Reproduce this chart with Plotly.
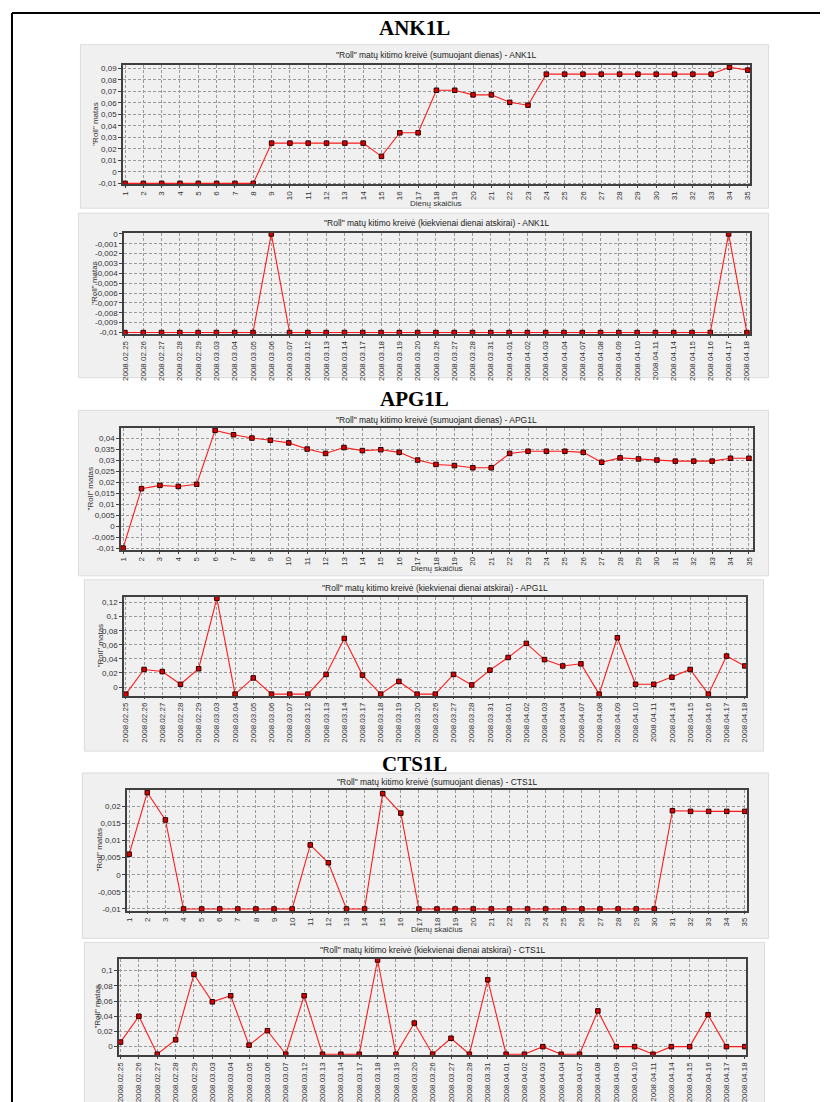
import plotly.graph_objects as go

# page body has an 8px margin: figure is sized to fit the window exactly
OFF = 8
W, H = 828 - OFF, 1102 - OFF

# ---------------- data ----------------
days = [1, 2, 3, 4, 5, 6, 7, 8, 9, 10, 11, 12, 13, 14, 15, 16, 17, 18, 19, 20,
        21, 22, 23, 24, 25, 26, 27, 28, 29, 30, 31, 32, 33, 34, 35]
day_labels = [str(d) for d in days]

dates = ["2008.02.25", "2008.02.26", "2008.02.27", "2008.02.28", "2008.02.29",
         "2008.03.03", "2008.03.04", "2008.03.05", "2008.03.06", "2008.03.07",
         "2008.03.12", "2008.03.13", "2008.03.14", "2008.03.17", "2008.03.18",
         "2008.03.19", "2008.03.20", "2008.03.26", "2008.03.27", "2008.03.28",
         "2008.03.31", "2008.04.01", "2008.04.02", "2008.04.03", "2008.04.04",
         "2008.04.07", "2008.04.08", "2008.04.09", "2008.04.10", "2008.04.11",
         "2008.04.14", "2008.04.15", "2008.04.16", "2008.04.17", "2008.04.18"]

ank1l_cum = [-0.01, -0.01, -0.01, -0.01, -0.01, -0.01, -0.01, -0.01, 0.025, 0.025,
             0.025, 0.025, 0.025, 0.025, 0.0135, 0.034, 0.034, 0.071, 0.071, 0.067,
             0.067, 0.0605, 0.058, 0.085, 0.085, 0.085, 0.085, 0.085, 0.085, 0.085,
             0.085, 0.085, 0.085, 0.091, 0.0885]
ank1l_day = [-0.01, -0.01, -0.01, -0.01, -0.01, -0.01, -0.01, -0.01, 0.0, -0.01,
             -0.01, -0.01, -0.01, -0.01, -0.01, -0.01, -0.01, -0.01, -0.01, -0.01,
             -0.01, -0.01, -0.01, -0.01, -0.01, -0.01, -0.01, -0.01, -0.01, -0.01,
             -0.01, -0.01, -0.01, 0.0, -0.01]
apg1l_cum = [-0.01, 0.017, 0.0185, 0.018, 0.019, 0.0435, 0.0415, 0.040, 0.039, 0.0378,
             0.035, 0.033, 0.0357, 0.0343, 0.0347, 0.0335, 0.030, 0.028, 0.0275, 0.0265,
             0.0265, 0.033, 0.034, 0.034, 0.034, 0.0335, 0.029, 0.031, 0.0305, 0.030,
             0.0295, 0.0295, 0.0295, 0.0308, 0.0308]
apg1l_day = [-0.01, 0.025, 0.022, 0.004, 0.026, 0.126, -0.01, 0.013, -0.01, -0.01,
             -0.01, 0.018, 0.069, 0.017, -0.01, 0.008, -0.01, -0.01, 0.018, 0.003,
             0.024, 0.042, 0.062, 0.039, 0.030, 0.033, -0.01, 0.070, 0.004, 0.004,
             0.014, 0.025, -0.01, 0.044, 0.030]
cts1l_cum = [0.006, 0.024, 0.016, -0.01, -0.01, -0.01, -0.01, -0.01, -0.01, -0.01,
             0.0087, 0.0035, -0.01, -0.01, 0.0237, 0.018, -0.01, -0.01, -0.01, -0.01,
             -0.01, -0.01, -0.01, -0.01, -0.01, -0.01, -0.01, -0.01, -0.01, -0.01,
             0.0187, 0.0185, 0.0185, 0.0185, 0.0185]
cts1l_day = [0.006, 0.040, -0.01, 0.009, 0.095, 0.059, 0.067, 0.002, 0.021, -0.01,
             0.067, -0.01, -0.01, -0.01, 0.114, -0.01, 0.031, -0.01, 0.011, -0.01,
             0.088, -0.01, -0.01, 0.0, -0.01, -0.01, 0.047, 0.0, 0.0, -0.01,
             0.0, 0.0, 0.042, 0.0, 0.0]

ank1l_cum_ticks = [-0.01, 0.0, 0.01, 0.02, 0.03, 0.04, 0.05, 0.06, 0.07, 0.08, 0.09]
ank1l_cum_ticklabels = ["-0,01", "0", "0,01", "0,02", "0,03", "0,04", "0,05",
                        "0,06", "0,07", "0,08", "0,09"]
ank1l_day_ticks = [0.0, -0.001, -0.002, -0.003, -0.004, -0.005, -0.006, -0.007,
                   -0.008, -0.009, -0.01]
ank1l_day_ticklabels = ["0", "-0,001", "-0,002", "-0,003", "-0,004", "-0,005",
                        "-0,006", "-0,007", "-0,008", "-0,009", "-0,01"]
apg1l_cum_ticks = [-0.01, -0.005, 0.0, 0.005, 0.01, 0.015, 0.02, 0.025, 0.03, 0.035, 0.04]
apg1l_cum_ticklabels = ["-0,01", "-0,005", "0", "0,005", "0,01", "0,015", "0,02",
                        "0,025", "0,03", "0,035", "0,04"]
apg1l_day_ticks = [0.0, 0.02, 0.04, 0.06, 0.08, 0.1, 0.12]
apg1l_day_ticklabels = ["0", "0,02", "0,04", "0,06", "0,08", "0,1", "0,12"]
cts1l_cum_ticks = [-0.01, -0.005, 0.0, 0.005, 0.01, 0.015, 0.02]
cts1l_cum_ticklabels = ["-0,01", "-0,005", "0", "0,005", "0,01", "0,015", "0,02"]
cts1l_day_ticks = [0.0, 0.02, 0.04, 0.06, 0.08, 0.1]
cts1l_day_ticklabels = ["0", "0,02", "0,04", "0,06", "0,08", "0,1"]

section_titles = ["ANK1L", "APG1L", "CTS1L"]
title_cum = '"Roll" matų kitimo kreivė (sumuojant dienas) - {}'
title_day = '"Roll" matų kitimo kreivė (kiekvienai dienai atskirai) - {}'
y_title = '"Roll" matas'
x_title = "Dienų skaičius"

# ---------------- layout geometry (window pixels) ----------------
panels = [
    dict(kind="cum", name="ANK1L", y=ank1l_cum, ticks=ank1l_cum_ticks, tl=ank1l_cum_ticklabels,
         bg=(78, 42, 772, 207), plot=(121, 62, 753, 183), yr=(-0.0109, 0.0934), xr=(0.89, 35.1),
         ytx=93, title_y=52, xt_y=202),
    dict(kind="day", name="ANK1L", y=ank1l_day, ticks=ank1l_day_ticks, tl=ank1l_day_ticklabels,
         bg=(76, 212, 772, 378), plot=(122, 232, 753, 334), yr=(-0.01015, 0.0001), xr=(-0.05, 34.15),
         ytx=92, title_y=222),
    dict(kind="cum", name="APG1L", y=apg1l_cum, ticks=apg1l_cum_ticks, tl=apg1l_cum_ticklabels,
         bg=(76, 411, 772, 578), plot=(119, 429, 756, 552), yr=(-0.0109, 0.0445), xr=(0.89, 35.2),
         ytx=88, title_y=421, xt_y=571),
    dict(kind="day", name="APG1L", y=apg1l_day, ticks=apg1l_day_ticks, tl=apg1l_day_ticklabels,
         bg=(82, 582, 767, 755), plot=(122, 599, 749, 699), yr=(-0.0122, 0.1284), xr=(-0.1, 34.05),
         ytx=98, title_y=590),
    dict(kind="cum", name="CTS1L", y=cts1l_cum, ticks=cts1l_cum_ticks, tl=cts1l_cum_ticklabels,
         bg=(80, 777, 772, 944), plot=(125, 794, 750, 916), yr=(-0.0105, 0.0248), xr=(0.88, 35.1),
         ytx=97, title_y=786, xt_y=935),
    dict(kind="day", name="CTS1L", y=cts1l_day, ticks=cts1l_day_ticks, tl=cts1l_day_ticklabels,
         bg=(82, 948, 768, 1110), plot=(117, 965, 749, 1062), yr=(-0.0115, 0.115), xr=(-0.08, 34.05),
         ytx=95, title_y=956),
]
section_title_y = [25, 400, 768]


def px(x):
    return (x - OFF) / W


def py(y):
    return 1 - (y - OFF) / H


FONT = "Liberation Sans"
fig = go.Figure()
shapes = []
annotations = []

for i, p in enumerate(panels):
    n = "" if i == 0 else str(i + 1)
    xa, ya = "x" + n, "y" + n
    x0, y0, x1, y1 = p["plot"]
    xvals = days if p["kind"] == "cum" else dates
    fig.add_trace(go.Scatter(
        x=xvals, y=p["y"], xaxis=xa, yaxis=ya, mode="lines+markers",
        line=dict(color="#ff1a1a", width=1.1),
        marker=dict(symbol="square", size=4.5, color="#dd0000",
                    line=dict(color="#2a0000", width=1)),
        showlegend=False, hoverinfo="skip", cliponaxis=False))

    xaxis = dict(domain=[px(x0), px(x1)], anchor=ya, range=list(p["xr"]),
                 showgrid=True, gridcolor="#9a9a9a", griddash="3px,2px", gridwidth=1,
                 showline=True, mirror=True, linecolor="#404040", linewidth=1.5,
                 ticks="outside", ticklen=2, tickcolor="#404040", tickangle=-90,
                 tickfont=dict(family=FONT, size=8, color="#333333"), zeroline=False,
                 fixedrange=True)
    if p["kind"] == "cum":
        xaxis.update(type="linear", tickvals=days, ticktext=day_labels)
    else:
        xaxis.update(type="category", tickvals=dates, ticktext=dates)
    yaxis = dict(domain=[py(y1), py(y0)], anchor=xa, range=list(p["yr"]),
                 tickvals=p["ticks"], ticktext=p["tl"],
                 showgrid=True, gridcolor="#9a9a9a", griddash="3px,2px", gridwidth=1,
                 showline=True, mirror=True, linecolor="#404040", linewidth=1.5,
                 ticks="outside", ticklen=3, tickcolor="#404040",
                 tickfont=dict(family=FONT, size=8, color="#333333"), zeroline=False,
                 fixedrange=True)
    fig.layout["xaxis" + n] = xaxis
    fig.layout["yaxis" + n] = yaxis

    bx0, by0, bx1, by1 = p["bg"]
    shapes.append(dict(type="rect", xref="paper", yref="paper", layer="below",
                       x0=px(bx0), x1=px(bx1), y0=py(by1), y1=py(by0),
                       fillcolor="#f0f0f0", line=dict(color="#dcdcdc", width=1)))

    t = (title_cum if p["kind"] == "cum" else title_day).format(p["name"])
    annotations.append(dict(text=t, xref="paper", yref="paper", x=px((x0 + x1) / 2),
                            y=py(p["title_y"]), xanchor="center", yanchor="middle",
                            showarrow=False, font=dict(family=FONT, size=8.5, color="#222222")))
    annotations.append(dict(text=y_title, xref="paper", yref="paper", x=px(p["ytx"]),
                            y=py((y0 + y1) / 2), xanchor="center", yanchor="middle", textangle=-90,
                            showarrow=False, font=dict(family=FONT, size=8, color="#333333")))
    if p["kind"] == "cum":
        annotations.append(dict(text=x_title, xref="paper", yref="paper", x=px((x0 + x1) / 2),
                                y=py(p["xt_y"]), xanchor="center", yanchor="middle",
                                showarrow=False, font=dict(family=FONT, size=8, color="#333333")))

for name, ty in zip(section_titles, section_title_y):
    annotations.append(dict(text="<b>" + name + "</b>", xref="paper", yref="paper", x=px(415),
                            y=py(ty), xanchor="center", yanchor="middle", showarrow=False,
                            font=dict(family="Liberation Serif", size=21, color="#000000")))

# outer page border
shapes.append(dict(type="line", xref="paper", yref="paper", x0=px(9), x1=px(836),
                   y0=py(10), y1=py(10), line=dict(color="#000000", width=2)))
shapes.append(dict(type="line", xref="paper", yref="paper", x0=px(9), x1=px(9),
                   y0=py(10), y1=py(1110), line=dict(color="#000000", width=2)))
shapes.append(dict(type="line", xref="paper", yref="paper", x0=px(826), x1=px(826),
                   y0=py(10), y1=py(1110), line=dict(color="#000000", width=2)))

fig.update_layout(width=W, height=H, margin=dict(l=0, r=0, t=0, b=0),
                  paper_bgcolor="#ffffff", plot_bgcolor="rgba(0,0,0,0)",
                  shapes=shapes, annotations=annotations, showlegend=False)

fig.write_html("out.html")
